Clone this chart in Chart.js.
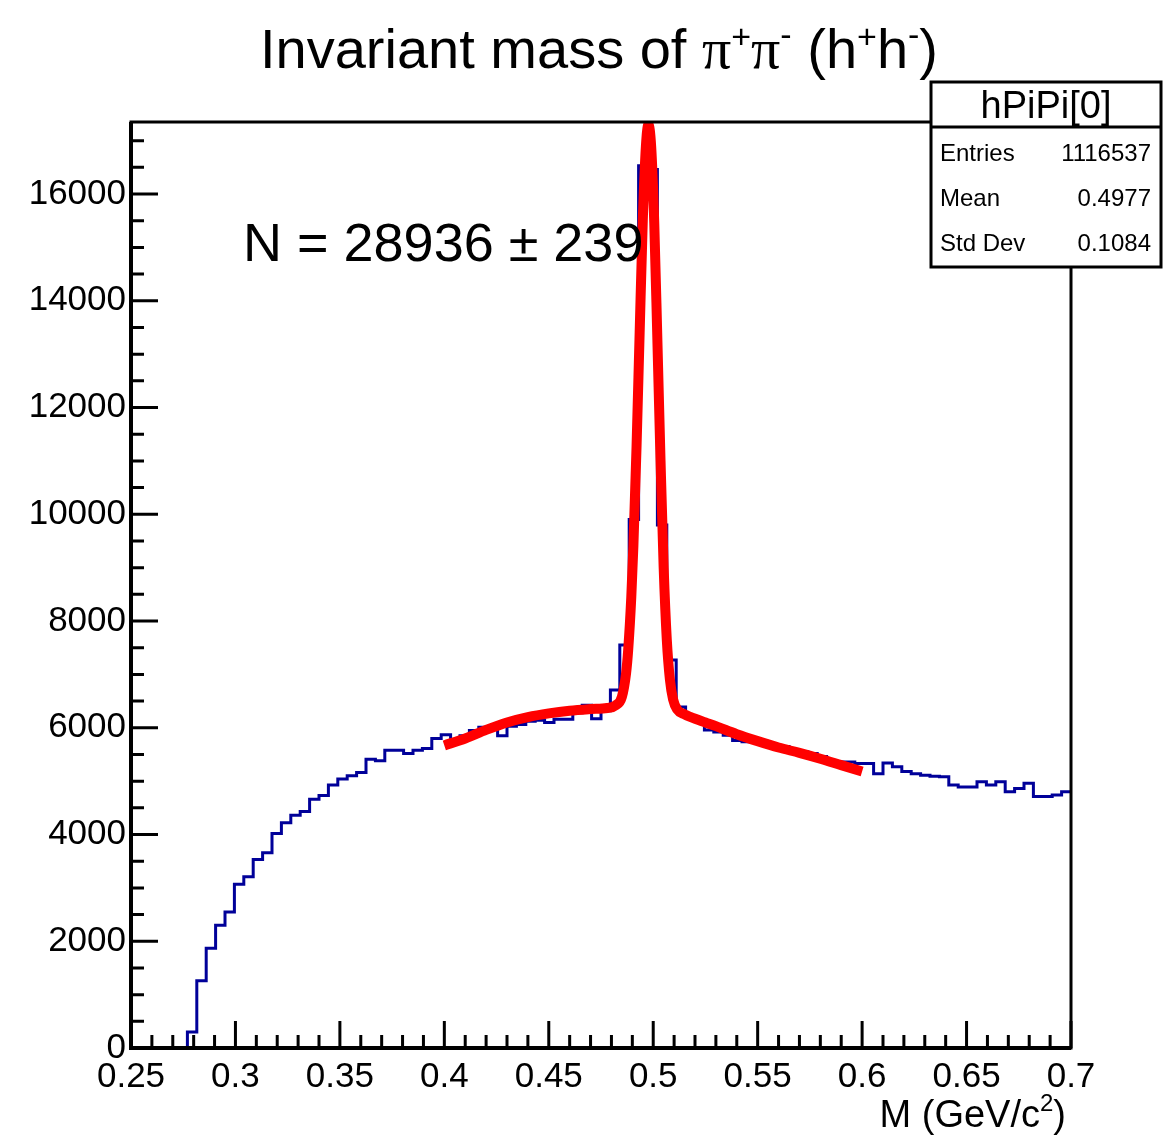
<!DOCTYPE html>
<html lang="en">
<head>
    <meta charset="UTF-8">
    <title>Invariant mass of π+π- (h+h-)</title>
    <script src="https://cdn.jsdelivr.net/npm/chart.js"></script>
    <style>
        html, body { margin: 0; padding: 0; background: #fff; }
        #wrap { width: 1163px; height: 1139px; }
    </style>
</head>
<body>
<div id="wrap"><canvas id="massChart" width="1163" height="1139"></canvas></div>
<script>
// histogram binning: 100 bins from 0.25 to 0.7
const binStart = 0.25;
const binWidth = 0.0045;

// bin contents
const counts = [
    0, 0, 0, 0, 0, 0, 300, 1260, 1870, 2300,
    2550, 3070, 3210, 3530, 3660, 4020, 4220, 4360, 4430, 4660,
    4730, 4930, 5040, 5100, 5160, 5410, 5380, 5580, 5580, 5520,
    5580, 5610, 5800, 5870, 5780, 5850, 5950, 6010, 6020, 5850,
    6030, 6060, 6120, 6140, 6100, 6160, 6160, 6280, 6420, 6170,
    6320, 6710, 7550, 9900, 16530, 16460, 9800, 7270, 6390, 6230,
    6150, 5960, 5920, 5860, 5760, 5740, 5770, 5700, 5670, 5650,
    5580, 5550, 5520, 5460, 5360, 5360, 5360, 5330, 5330, 5140,
    5340, 5270, 5180, 5140, 5110, 5090, 5080, 4930, 4890, 4890,
    4990, 4930, 4990, 4800, 4860, 4960, 4710, 4710, 4740, 4800
];

// fit curve (signal + background), read at these masses
const fitX = [0.400, 0.410, 0.420, 0.430, 0.440, 0.450, 0.460, 0.470, 0.478, 0.482,
              0.485, 0.487, 0.488, 0.4895, 0.4905, 0.492, 0.4935, 0.495, 0.4965, 0.4977,
              0.499, 0.5005, 0.502, 0.5035, 0.505, 0.5065, 0.508, 0.5095, 0.5115, 0.515,
              0.518, 0.525, 0.530, 0.540, 0.550, 0.560, 0.570, 0.580, 0.590, 0.600];
const fitY = [5670, 5800, 5960, 6100, 6200, 6270, 6320, 6350, 6370, 6420,
              6580, 7020, 7450, 8450, 9400, 11250, 13400, 15500, 16900, 17300,
              16900, 15450, 13250, 11000, 9000, 7650, 6900, 6530, 6340, 6250,
              6200, 6100, 6030, 5880, 5750, 5630, 5530, 5420, 5300, 5180];

const xTickValues = [0.25, 0.3, 0.35, 0.4, 0.45, 0.5, 0.55, 0.6, 0.65, 0.7];
const xTickLabels = ['0.25', '0.3', '0.35', '0.4', '0.45', '0.5', '0.55', '0.6', '0.65', '0.7'];
const yTickValues = [0, 2000, 4000, 6000, 8000, 10000, 12000, 14000, 16000];
const yTickLabels = ['0', '2000', '4000', '6000', '8000', '10000', '12000', '14000', '16000'];

const statsTitle = 'hPiPi[0]';
const statsRows = [['Entries', '1116537'], ['Mean', '0.4977'], ['Std Dev', '0.1084']];
const yieldText = 'N = 28936 \u00b1 239';

const SANS = '"Liberation Sans", Arial, Helvetica, sans-serif';
const SERIF = '"Liberation Serif", "DejaVu Serif", serif';

// step outline: one point per left bin edge, plus closing right edge
const histPoints = counts.map((c, i) => ({ x: binStart + i * binWidth, y: c }));
histPoints.push({ x: binStart + counts.length * binWidth, y: counts[counts.length - 1] });

const fitPoints = fitX.map((x, i) => ({ x: x, y: fitY[i] }));

// draws a run of text pieces, some raised as superscripts
function drawPieces(ctx, pieces, x, y, align) {
    let total = 0;
    pieces.forEach(p => { ctx.font = p.font; total += ctx.measureText(p.t).width; });
    let cx = align === 'center' ? x - total / 2 : (align === 'right' ? x - total : x);
    ctx.textAlign = 'left';
    ctx.textBaseline = 'alphabetic';
    pieces.forEach(p => {
        ctx.font = p.font;
        ctx.fillText(p.t, cx, y - (p.up || 0));
        cx += ctx.measureText(p.t).width;
    });
}

const rootFrame = {
    id: 'rootFrame',
    afterDatasetsDraw(chart) {
        const ctx = chart.ctx;
        const a = chart.chartArea;
        const xs = chart.scales.x, ys = chart.scales.y;
        ctx.save();
        ctx.strokeStyle = '#000';
        ctx.fillStyle = '#000';

        // tick marks pointing into the frame
        ctx.lineWidth = 3;
        ctx.beginPath();
        for (let k = 0; k <= 45; k++) {
            const px = xs.getPixelForValue(0.25 + k * 0.01);
            const len = k % 5 === 0 ? 27 : 13;
            ctx.moveTo(px, a.bottom);
            ctx.lineTo(px, a.bottom - len);
        }
        for (let k = 0; k * 500 <= ys.max; k++) {
            const py = ys.getPixelForValue(k * 500);
            const len = k % 4 === 0 ? 27 : 13;
            ctx.moveTo(a.left, py);
            ctx.lineTo(a.left + len, py);
        }
        ctx.stroke();

        // frame
        ctx.lineWidth = 3;
        ctx.strokeRect(a.left, a.top, a.right - a.left, a.bottom - a.top);
        ctx.lineWidth = 4;
        ctx.beginPath();
        ctx.moveTo(a.left, a.top);
        ctx.lineTo(a.left, a.bottom);
        ctx.lineTo(a.right, a.bottom);
        ctx.stroke();

        // title
        const big = '56px ' + SANS, bigPi = '58px ' + SERIF, sup = '34px ' + SANS;
        drawPieces(ctx, [
            { t: 'Invariant mass of ', font: big },
            { t: '\u03c0', font: bigPi },
            { t: '+', font: sup, up: 20 },
            { t: '\u03c0', font: bigPi },
            { t: '-', font: sup, up: 22 },
            { t: ' (h', font: big },
            { t: '+', font: sup, up: 20 },
            { t: 'h', font: big },
            { t: '-', font: sup, up: 22 },
            { t: ')', font: big }
        ], 599, 68, 'center');

        // fitted yield
        drawPieces(ctx, [{ t: yieldText, font: '54px ' + SANS }], 243, 261, 'left');

        // axis title
        drawPieces(ctx, [
            { t: 'M (GeV/c', font: '38px ' + SANS },
            { t: '2', font: '24px ' + SANS, up: 16 },
            { t: ')', font: '38px ' + SANS }
        ], 1066, 1127, 'right');

        // stats box
        const bx = 931, by = 82, bw = 230, bh = 185;
        ctx.fillStyle = '#fff';
        ctx.fillRect(bx, by, bw, bh);
        ctx.lineWidth = 3;
        ctx.strokeRect(bx, by, bw, bh);
        ctx.beginPath();
        ctx.moveTo(bx, 127);
        ctx.lineTo(bx + bw, 127);
        ctx.stroke();
        ctx.fillStyle = '#000';
        drawPieces(ctx, [{ t: statsTitle, font: '38px ' + SANS }], 1046, 118, 'center');
        statsRows.forEach((r, i) => {
            const base = 161 + i * 45;
            drawPieces(ctx, [{ t: r[0], font: '24px ' + SANS }], 940, base, 'left');
            drawPieces(ctx, [{ t: r[1], font: '24px ' + SANS }], 1151, base, 'right');
        });
        ctx.restore();
    }
};

const tickFont = { family: SANS, size: 35 };

new Chart(document.getElementById('massChart').getContext('2d'), {
    type: 'line',
    data: {
        datasets: [
            {
                label: 'fit',
                data: fitPoints,
                borderColor: '#ff0000',
                borderWidth: 10,
                pointRadius: 0,
                cubicInterpolationMode: 'monotone',
                fill: false
            },
            {
                label: 'hPiPi[0]',
                data: histPoints,
                borderColor: '#000099',
                borderWidth: 3,
                pointRadius: 0,
                stepped: 'before',
                fill: false
            }
        ]
    },
    options: {
        responsive: false,
        animation: false,
        layout: { padding: { top: 122, right: 92, left: 0, bottom: 0 } },
        plugins: {
            legend: { display: false },
            tooltip: { enabled: false },
            title: { display: false }
        },
        scales: {
            x: {
                type: 'linear',
                min: 0.25,
                max: 0.7,
                grid: { display: false, drawTicks: false },
                border: { display: false },
                afterBuildTicks: s => { s.ticks = xTickValues.map(v => ({ value: v })); },
                afterFit: s => { s.height = 91; },
                ticks: {
                    font: tickFont,
                    color: '#000',
                    padding: 8,
                    maxRotation: 0,
                    autoSkip: false,
                    callback: (v, i) => xTickLabels[i]
                }
            },
            y: {
                type: 'linear',
                min: 0,
                max: 17350,
                grid: { display: false, drawTicks: false },
                border: { display: false },
                afterBuildTicks: s => { s.ticks = yTickValues.map(v => ({ value: v })); },
                afterFit: s => { s.width = 131; },
                ticks: {
                    font: tickFont,
                    color: '#000',
                    padding: 5,
                    autoSkip: false,
                    callback: (v, i) => yTickLabels[i]
                }
            }
        }
    },
    plugins: [rootFrame]
});
</script>
</body>
</html>
